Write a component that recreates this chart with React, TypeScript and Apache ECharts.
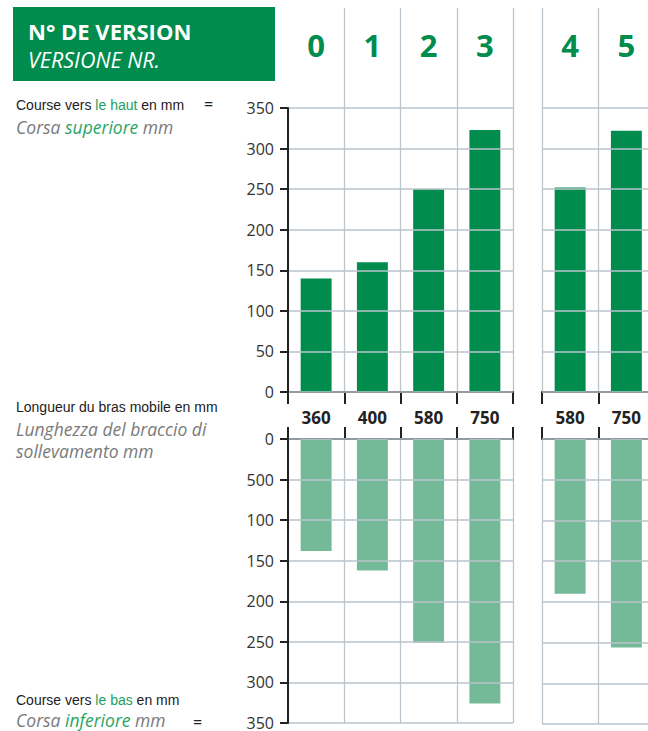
import React, { useEffect, useRef } from "react";
import * as echarts from "echarts";

const versions1 = ["0", "1", "2", "3"];
const versions2 = ["4", "5"];
const armLengths1 = ["360", "400", "580", "750"];
const armLengths2 = ["580", "750"];
const upStroke1 = [140, 160, 250, 323];
const upStroke2 = [252, 322];
const downStroke1 = [138, 162, 251, 326];
const downStroke2 = [190, 256];
const upTickLabels = ["0", "50", "100", "150", "200", "250", "300", "350"];
const downTickLabels = ["0", "500", "100", "150", "200", "250", "300", "350"];

const GREEN = "#008C4D";
const LIGHT_GREEN = "#74B998";
const GRID_COLOR = "#BAC5CC";
const DARK = "#222222";
const FONT = "'Open Sans', 'Noto Sans', sans-serif";
const NARROW = "'Liberation Sans Narrow', 'Liberation Sans', sans-serif";

const COL = 56.25;
const L1 = 288;
const L2 = 542;
const TOP_Y = 108;
const TOP_H = 284;
const BOT_Y = 439;
const BOT_H = 285;

export default function App() {
  const ref = useRef<HTMLDivElement>(null);
  useEffect(() => {
    if (!ref.current) return;
    const chart = echarts.init(ref.current, undefined, { renderer: "svg" });

    const grids = [
      { left: L1, top: 8, width: COL * 4, height: 100 },
      { left: L2, top: 8, width: COL * 2, height: 100 },
      { left: L1, top: TOP_Y, width: COL * 4, height: TOP_H },
      { left: L2, top: TOP_Y, width: COL * 2, height: TOP_H },
      { left: L1, top: BOT_Y, width: COL * 4, height: BOT_H },
      { left: L2, top: BOT_Y, width: COL * 2, height: BOT_H },
    ];

    const splitX = (showMin: boolean) => ({
      show: true,
      interval: 0,
      showMinLine: showMin,
      lineStyle: { color: GRID_COLOR, width: 1.3 },
    });

    const headerX = (gi: number, data: string[], showMin: boolean) => ({
      gridIndex: gi,
      type: "category",
      data,
      position: "bottom",
      axisLine: { show: false },
      axisTick: { show: false },
      axisLabel: {
        interval: 0,
        margin: -63,
        verticalAlign: "middle",
        color: GREEN,
        fontSize: 31,
        fontWeight: "bold",
        fontFamily: FONT,
      },
      splitLine: splitX(showMin),
    });

    const topX = (gi: number, data: string[]) => ({
      gridIndex: gi,
      type: "category",
      data,
      position: "bottom",
      axisLine: { show: true, lineStyle: { color: DARK, width: 2 } },
      axisTick: { show: true, interval: 0, length: 12, lineStyle: { color: DARK, width: 2 } },
      axisLabel: {
        interval: 0,
        margin: 25,
        verticalAlign: "middle",
        color: DARK,
        fontSize: 17,
        fontWeight: "bold",
        fontFamily: FONT,
      },
      splitLine: splitX(true),
    });

    const botX = (gi: number, data: string[]) => ({
      gridIndex: gi,
      type: "category",
      data,
      position: "top",
      axisLine: { show: true, lineStyle: { color: DARK, width: 2 } },
      axisTick: { show: true, interval: 0, length: 12, lineStyle: { color: DARK, width: 2 } },
      axisLabel: { show: false },
      splitLine: splitX(true),
    });

    const valY = (gi: number, withAxis: boolean, inverse: boolean, labels: string[]) => ({
      gridIndex: gi,
      type: "value",
      min: 0,
      max: 350,
      interval: 50,
      inverse,
      z: 5,
      axisLine: { show: withAxis, lineStyle: { color: DARK, width: 2 } },
      axisTick: { show: withAxis, length: 8, lineStyle: { color: DARK, width: 2 } },
      axisLabel: {
        show: withAxis,
        margin: 14,
        color: "#333",
        fontSize: 16,
        fontFamily: FONT,
        formatter: (v: number) => labels[Math.round(v / 50)] ?? "",
      },
      splitLine: { show: true, lineStyle: { color: GRID_COLOR, width: 1.5 } },
    });

    const hiddenY = (gi: number) => ({
      gridIndex: gi,
      type: "value",
      show: false,
      splitLine: { show: false },
    });

    const bar = (xi: number, data: number[], color: string) => ({
      type: "bar",
      xAxisIndex: xi,
      yAxisIndex: xi,
      data,
      barWidth: "55%",
      itemStyle: { color },
      silent: true,
    });

    const txt = (x: number, y: number, text: string, style: any) => ({
      type: "text",
      x,
      y,
      style: { text, verticalAlign: "middle", ...style },
    });

    const black = { fill: "#222", fontSize: 14, fontFamily: NARROW };
    const greenN = { fill: "#1E9E5E", fontSize: 14, fontFamily: NARROW };
    const grayI = { fill: "#7A7A7A", fontSize: 17.5, fontStyle: "italic", fontFamily: FONT };
    const greenI = { fill: "#2AA566", fontSize: 17.5, fontStyle: "italic", fontFamily: FONT };

    chart.setOption({
      animation: false,
      grid: grids,
      xAxis: [
        headerX(0, versions1, false),
        headerX(1, versions2, true),
        topX(2, armLengths1),
        topX(3, armLengths2),
        botX(4, armLengths1),
        botX(5, armLengths2),
      ],
      yAxis: [
        hiddenY(0),
        hiddenY(1),
        valY(2, true, false, upTickLabels),
        valY(3, false, false, upTickLabels),
        valY(4, true, true, downTickLabels),
        valY(5, false, true, downTickLabels),
      ],
      series: [
        bar(2, upStroke1, GREEN),
        bar(3, upStroke2, GREEN),
        bar(4, downStroke1, LIGHT_GREEN),
        bar(5, downStroke2, LIGHT_GREEN),
      ],
      graphic: [
        { type: "rect", shape: { x: 13, y: 7, width: 262, height: 74 }, style: { fill: GREEN } },
        txt(28, 31, "N° DE VERSION", { fill: "#fff", fontSize: 22, fontWeight: "bold", fontFamily: FONT }),
        txt(28, 59, "VERSIONE NR.", { fill: "#fff", fontSize: 21.5, fontStyle: "italic", fontFamily: FONT }),
        {
          type: "text",
          x: 16,
          y: 105,
          style: {
            text: "{a|Course vers }{g|le haut}{a| en mm}",
            verticalAlign: "middle",
            rich: { a: black, g: greenN },
          },
        },
        txt(204, 104, "=", { fill: "#222", fontSize: 16, fontFamily: FONT }),
        {
          type: "text",
          x: 16,
          y: 127,
          style: {
            text: "{a|Corsa }{g|superiore}{a| mm}",
            verticalAlign: "middle",
            rich: { a: grayI, g: greenI },
          },
        },
        txt(16, 407, "Longueur du bras mobile en mm", black),
        txt(16, 429, "Lunghezza del braccio di", grayI),
        txt(16, 451, "sollevamento mm", grayI),
        {
          type: "text",
          x: 16,
          y: 700,
          style: {
            text: "{a|Course vers }{g|le bas}{a| en mm}",
            verticalAlign: "middle",
            rich: { a: black, g: greenN },
          },
        },
        {
          type: "text",
          x: 16,
          y: 720,
          style: {
            text: "{a|Corsa }{g|inferiore}{a| mm}",
            verticalAlign: "middle",
            rich: { a: grayI, g: greenI },
          },
        },
        txt(193, 722, "=", { fill: "#222", fontSize: 16, fontFamily: FONT }),
      ],
    });
    return () => chart.dispose();
  }, []);

  return (
    <div style={{ position: "fixed", left: 0, top: 0, width: 648, height: 731, overflow: "hidden", background: "#fff" }}>
      <div ref={ref} style={{ width: 660, height: 731 }} />
    </div>
  );
}
